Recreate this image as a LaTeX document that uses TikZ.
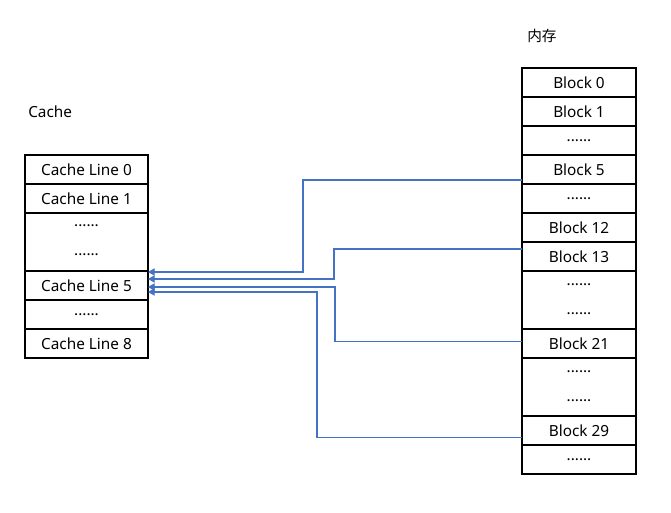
\documentclass[tikz,border=0pt]{standalone}
\usepackage{fontspec}
\setmainfont{Noto Sans}
\newfontfamily\cjk{Noto Sans CJK SC}
\usetikzlibrary{arrows.meta,calc}
\definecolor{linkblue}{HTML}{4472C4}
\begin{document}
\begin{tikzpicture}[x=0.75pt,y=-0.75pt,
  cell/.style={draw=black,line width=1.5pt,inner sep=0pt,outer sep=0pt,
    font=\fontsize{11.5}{13}\selectfont},
  cachecell/.style={cell,minimum width=92.25pt,minimum height=21.75pt},
  cachebig/.style={cell,minimum width=92.25pt,minimum height=43.5pt},
  memcell/.style={cell,minimum width=85.1pt,minimum height=21.75pt},
  membig/.style={cell,minimum width=85.1pt,minimum height=43.5pt},
  dotstext/.style={inner sep=0pt,font=\fontsize{11.5}{13}\selectfont},
  lbl/.style={anchor=west,inner sep=0pt},
  link/.style={draw=linkblue,line width=0.8pt,-{Triangle[length=5pt,width=5.5pt]}}]
\useasboundingbox (0,0) rectangle (671,513);

% labels
\node[lbl,font=\fontsize{11.5}{13}\selectfont] (cachelbl) at (28,112) {Cache};
\node[lbl,font=\cjk\fontsize{11}{13}\selectfont] (memlbl) at (527,36) {内存};

% cache
\node[cachecell] (cl0) at (86.5,169.5) {Cache Line 0};
\node[cachecell] (cl1) at (86.5,198.5) {Cache Line 1};
\node[cachebig]  (cd1) at (86.5,242) {};
\node[dotstext]  (cd1a) at (86.5,226) {......};
\node[dotstext]  (cd1b) at (86.5,255) {......};
\node[cachecell] (cl5) at (86.5,285.5) {Cache Line 5};
\node[cachecell] (cd2) at (86.5,314.5) {......};
\node[cachecell] (cl8) at (86.5,343.5) {Cache Line 8};

% memory
\node[memcell] (b0)  at (579,82.5) {Block 0};
\node[memcell] (b1)  at (579,111.5) {Block 1};
\node[memcell] (m1)  at (579,140.5) {......};
\node[memcell] (b5)  at (579,169.5) {Block 5};
\node[memcell] (m2)  at (579,198.5) {......};
\node[memcell] (b12) at (579,227.5) {Block 12};
\node[memcell] (b13) at (579,256.5) {Block 13};
\node[membig]  (m3)  at (579,300) {};
\node[dotstext] (m3a) at (579,284.5) {......};
\node[dotstext] (m3b) at (579,313.5) {......};
\node[memcell] (b21) at (579,343.5) {Block 21};
\node[membig]  (m4)  at (579,387) {};
\node[dotstext] (m4a) at (579,371.5) {......};
\node[dotstext] (m4b) at (579,400.5) {......};
\node[memcell] (b29) at (579,430.5) {Block 29};
\node[memcell] (m5)  at (579,459.5) {......};

% connectors
\draw[link] ($(b5.west)+(0,10.5)$) -| (303,272) -- ($(cl5.east)+(0,-13.5)$);
\draw[link] ($(b13.west)+(0,-7.5)$) -| (334,279) -- ($(cl5.east)+(0,-6.5)$);
\draw[link] ($(b21.west)+(0,-1.8)$) -| (335,287) -- ($(cl5.east)+(0,1.5)$);
\draw[link] ($(b29.west)+(0,7.2)$) -| (317,292) -- ($(cl5.east)+(0,6.5)$);
\end{tikzpicture}
\end{document}
